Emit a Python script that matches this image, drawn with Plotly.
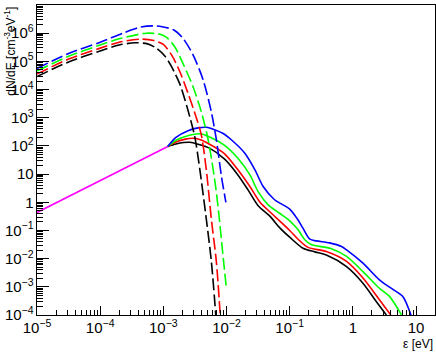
import numpy as np
import plotly.graph_objects as go

# all values, kept as log10(E / eV) and log10(dN/dE)

# dashed (thermal) spectra
dash_black_logE = [-5.0, -4.5, -4.0, -3.7, -3.45, -3.25, -3.1, -2.97, -2.87, -2.74, -2.66, -2.58, -2.5, -2.42, -2.32, -2.24, -2.17]
dash_black_logN = [4.46, 4.98, 5.37, 5.58, 5.66, 5.62, 5.45, 5.17, 4.81, 4.2, 3.65, 3.02, 2.3, 1.12, -0.6, -2.1, -4.0]

dash_red_logE = [-5.0, -4.5, -4.0, -3.7, -3.35, -3.15, -3.0, -2.87, -2.74, -2.61, -2.5, -2.4, -2.32, -2.24, -2.16, -2.10]
dash_red_logN = [4.55, 5.08, 5.47, 5.68, 5.79, 5.74, 5.6, 5.23, 4.64, 3.87, 3.15, 2.4, 1.15, -0.6, -2.13, -4.0]

dash_green_logE = [-5.0, -4.5, -4.0, -3.7, -3.27, -3.05, -2.95, -2.82, -2.69, -2.53, -2.4, -2.29, -2.18, -2.12, -2.06, -2.0]
dash_green_logN = [4.66, 5.18, 5.58, 5.8, 6.0, 5.96, 5.85, 5.52, 4.93, 4.1, 3.22, 2.21, 0.68, -0.45, -1.8, -3.1]

dash_blue_logE = [-5.0, -4.5, -4.0, -3.64, -3.37, -3.16, -3.02, -2.84, -2.69, -2.53, -2.37, -2.24, -2.16, -2.08, -2.01]
dash_blue_logN = [4.75, 5.28, 5.68, 6.0, 6.21, 6.26, 6.23, 6.12, 5.82, 5.23, 4.34, 3.2, 2.21, 0.91, 0.0]

# solid (reprocessed) spectra
solid_black_logE = [-2.93, -2.8, -2.68, -2.58, -2.45, -2.27, -2.03, -1.84, -1.66, -1.5, -1.31, -1.16, -1.0, -0.79, -0.6, -0.42, -0.10, 0.16, 0.37, 0.53]
solid_black_logN = [1.98, 2.07, 2.12, 2.13, 2.06, 1.92, 1.53, 1.03, 0.44, -0.12, -0.5, -0.9, -1.24, -1.63, -1.76, -1.87, -2.28, -2.87, -3.52, -4.0]

solid_red_logE = [-2.93, -2.8, -2.65, -2.53, -2.4, -2.27, -2.03, -1.82, -1.63, -1.47, -1.29, -1.16, -1.0, -0.84, -0.71, -0.42, -0.10, 0.16, 0.42, 0.60]
solid_red_logN = [1.98, 2.14, 2.24, 2.27, 2.21, 2.06, 1.72, 1.15, 0.56, 0.0, -0.39, -0.66, -1.0, -1.37, -1.6, -1.75, -2.10, -2.69, -3.46, -4.0]

solid_green_logE = [-2.93, -2.8, -2.6, -2.42, -2.25, -2.03, -1.82, -1.63, -1.50, -1.34, -1.16, -1.0, -0.87, -0.76, -0.66, -0.35, -0.10, 0.16, 0.42, 0.58, 0.77]
solid_green_logN = [1.98, 2.2, 2.37, 2.43, 2.3, 2.02, 1.56, 0.97, 0.38, -0.09, -0.39, -0.66, -0.97, -1.33, -1.5, -1.64, -1.92, -2.46, -3.05, -3.34, -4.0]

solid_blue_logE = [-2.93, -2.8, -2.6, -2.45, -2.32, -2.06, -1.92, -1.71, -1.55, -1.42, -1.24, -1.0, -0.87, -0.79, -0.68, -0.58, -0.37, -0.18, -0.10, 0.16, 0.42, 0.64, 0.79, 0.92]
solid_blue_logN = [1.98, 2.3, 2.55, 2.64, 2.66, 2.45, 2.21, 1.74, 1.15, 0.56, 0.09, -0.24, -0.62, -0.92, -1.31, -1.37, -1.44, -1.57, -1.69, -2.16, -2.75, -3.1, -3.34, -4.0]

# low-energy power law
magenta_logE = [-5.0, -2.93]
magenta_logN = [-0.36, 1.98]

fig = go.Figure()

def add_curve(logE, logN, color, dash=None):
    fig.add_trace(go.Scatter(
        x=np.power(10.0, logE),
        y=np.power(10.0, logN),
        mode='lines',
        line=dict(color=color, width=1.6, dash=dash, shape='spline', smoothing=0.8),
        hoverinfo='skip'
    ))

add_curve(magenta_logE, magenta_logN, '#ff00ff')
add_curve(solid_black_logE, solid_black_logN, '#000000')
add_curve(solid_red_logE, solid_red_logN, '#ff0000')
add_curve(solid_green_logE, solid_green_logN, '#00ff00')
add_curve(solid_blue_logE, solid_blue_logN, '#0000ff')
add_curve(dash_black_logE, dash_black_logN, '#000000', '12px,4px')
add_curve(dash_red_logE, dash_red_logN, '#ff0000', '12px,4px')
add_curve(dash_green_logE, dash_green_logN, '#00ff00', '12px,4px')
add_curve(dash_blue_logE, dash_blue_logN, '#0000ff', '12px,4px')

axis_common = dict(
    type='log', dtick=1, tick0=0, exponentformat='power',
    ticks='inside', tickcolor='black', tickwidth=1,
    showline=True, linecolor='black', linewidth=1, mirror=True,
    showgrid=False, zeroline=False,
    tickfont=dict(family='Liberation Sans, Arial', size=12, color='black'),
)

fig.update_xaxes(range=[-5, 1.3], ticklen=9,
                 minor=dict(ticks='inside', ticklen=5, tickcolor='black', dtick='D1', showgrid=False),
                 **axis_common)
fig.update_yaxes(range=[-4, 7], ticklen=12,
                 minor=dict(ticks='inside', ticklen=6, tickcolor='black', dtick='D1', showgrid=False),
                 **axis_common)

fig.add_annotation(text='dN/dE [cm<sup>-3</sup>eV<sup>-1</sup>]', textangle=-90,
                   xref='paper', yref='paper', x=-0.07, y=1.0,
                   xanchor='center', yanchor='top', showarrow=False,
                   font=dict(family='Liberation Sans, Arial', size=12, color='black'))
fig.add_annotation(text='\u03b5 [eV]', xref='paper', yref='paper', x=1.0, y=-0.094,
                   xanchor='right', yanchor='middle', showarrow=False,
                   font=dict(family='Liberation Sans, Arial', size=12, color='black'))

fig.update_layout(
    width=436, height=352,
    margin=dict(l=37, r=1, t=5, b=37),
    plot_bgcolor='white', paper_bgcolor='white',
    showlegend=False,
)

# the page body keeps a default margin; drop it so the figure sits at 0,0
fig.write_html("out.html", config={'displayModeBar': False},
               post_script="document.body.style.margin='0';")
